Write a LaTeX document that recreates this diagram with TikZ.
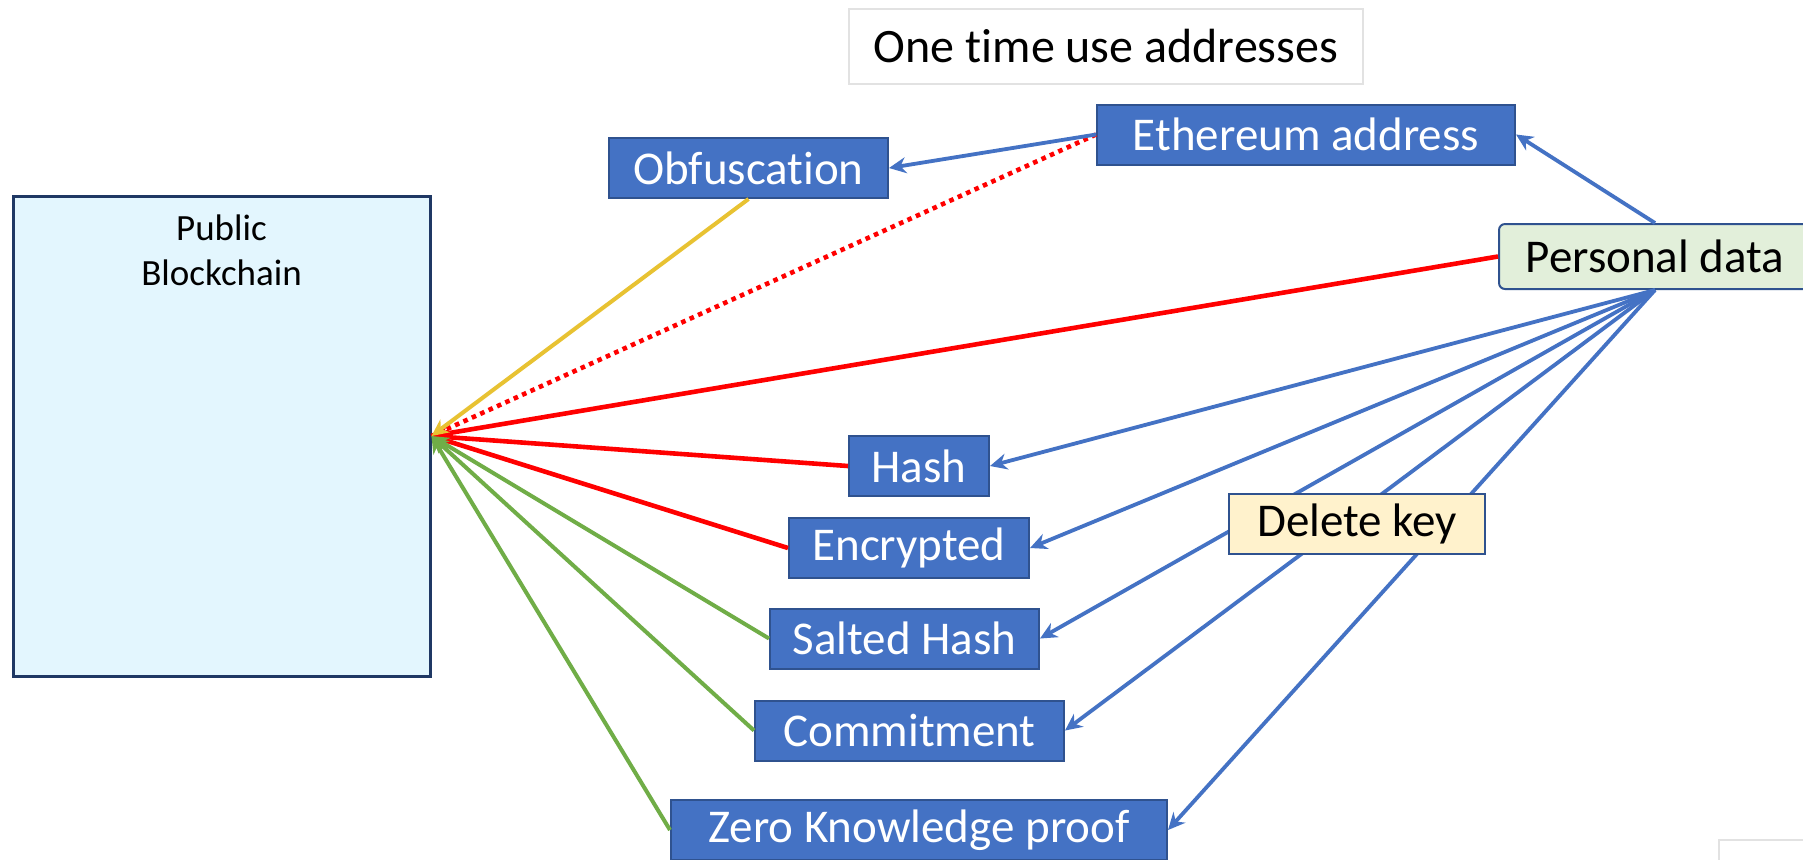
\documentclass[tikz,border=0pt]{standalone}
\usepackage{fontspec}
\setmainfont{Carlito}[Ligatures={NoCommon,NoContextual,NoRare}]
\usetikzlibrary{arrows.meta}

\definecolor{boxblue}{HTML}{4472C4}
\definecolor{edgeblue}{HTML}{2F528F}
\definecolor{chainfill}{HTML}{E3F6FE}
\definecolor{chainedge}{HTML}{1F3864}
\definecolor{datafill}{HTML}{E2EFDA}
\definecolor{keyfill}{HTML}{FFF2CC}
\definecolor{linkred}{HTML}{FF0000}
\definecolor{linkgreen}{HTML}{70AD47}
\definecolor{linkgold}{HTML}{E8C232}
\definecolor{framegray}{HTML}{E2E2E2}

\begin{document}
\begin{tikzpicture}[
  x=0.5pt, y=-0.5pt,
  font=\fontsize{23.5}{28}\selectfont,
  blk/.style={draw=edgeblue, line width=1pt, fill=boxblue, text=white,
    minimum height=30pt, inner sep=0pt},
  note/.style={draw=edgeblue, line width=1pt, minimum height=30pt, inner sep=0pt},
  arr/.style={-{Stealth[length=8.5pt,width=8pt]}, line width=1.9pt},
  bluearr/.style={arr, draw=boxblue},
  redlink/.style={-{Stealth[length=8.5pt,width=8pt]}, line width=2.3pt, draw=linkred},
  greenlink/.style={arr, draw=linkgreen, line width=2pt},
  goldlink/.style={arr, draw=linkgold, line width=2pt}
]
\fill[white] (0,0) rectangle (1803,859);
\useasboundingbox (0,0) rectangle (1803,859);

% left store
\node[draw=chainedge, line width=1.5pt, fill=chainfill, minimum width=208.5pt,
  minimum height=240pt, inner sep=0pt,
  label={[align=center, anchor=north, inner sep=0pt, yshift=-10pt,
    font=\fontsize{18.5}{22.5}\selectfont]north:{Public\\Blockchain}}]
  (chain) at (221.5,436) {};

% top row
\node[draw=framegray, line width=1pt, fill=white, minimum width=257pt,
  minimum height=37.5pt, font=\fontsize{24}{28}\selectfont] (once) at (1106,46.5) {One time use addresses};
\node[blk, minimum width=209pt] (eth) at (1306,134.5) {Ethereum address};
\node[blk, minimum width=139.5pt] (obf) at (748.5,168) {Obfuscation};
\node[note, fill=datafill, rounded corners=3pt, minimum width=156pt,
  minimum height=32.5pt] (pd) at (1655,256.5) {Personal data};

% techniques
\node[blk, minimum width=70pt] (hash) at (919,466) {Hash};
\node[blk, minimum width=120pt] (enc) at (909,548) {Encrypted};
\node[blk, minimum width=134.5pt] (salt) at (904.5,638.5) {Salted Hash};
\node[blk, minimum width=154.5pt] (comm) at (909.5,730.5) {Commitment};
\node[blk, minimum width=248pt] (zkp) at (919,830) {Zero Knowledge proof};

% links into the chain
\draw[redlink, -, dash pattern=on 2.3pt off 2.3pt] (eth.west) -- (chain.east);
\draw[redlink] (pd.west) -- (chain.east);
\draw[redlink] (hash.west) -- (chain.east);
\draw[redlink] (enc.west) -- (chain.east);
\draw[goldlink] (obf.south) -- (chain.east);
\draw[greenlink] (salt.west) -- (chain.east);
\draw[greenlink] (comm.west) -- (chain.east);
\draw[greenlink] (zkp.west) -- (chain.east);

% links from personal data
\draw[bluearr] (eth.west) -- (obf.east);
\draw[bluearr] (pd.north) -- (eth.east);
\foreach \t in {hash,enc,salt,comm,zkp}
  \draw[bluearr] (pd.south) -- (\t.east);

\node[note, fill=keyfill, text=black, minimum width=128pt] (del) at (1357,524) {Delete key};

% corner of the next frame
\draw[framegray, line width=1pt] (1719,870) -- (1719,840) -- (1810,840);
\end{tikzpicture}
\end{document}
